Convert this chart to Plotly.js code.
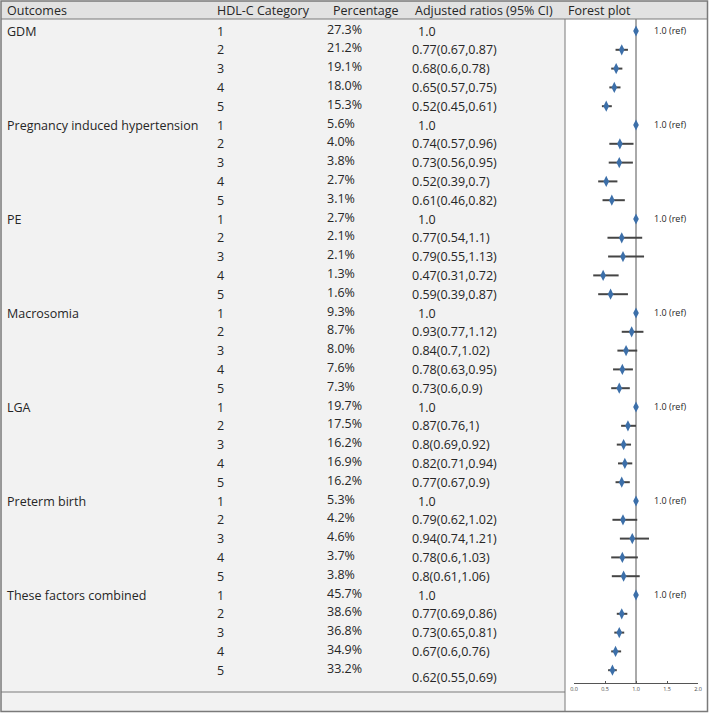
<!DOCTYPE html>
<html>
<head>
<meta charset="utf-8">
<script src="https://cdn.plot.ly/plotly-3.0.1.min.js"></script>
<style>
  body { margin: 0; padding: 0; background: #fff; }
  #chart { width: 709px; height: 713px; }
</style>
</head>
<body>
<div id="chart"></div>
<script>
// table data
const outcomes = ['GDM', 'Pregnancy induced hypertension', 'PE', 'Macrosomia', 'LGA', 'Preterm birth', 'These factors combined'];
const categories = ['1', '2', '3', '4', '5'];
const percentages = [
    [27.3, 21.2, 19.1, 18.0, 15.3],
    [5.6, 4.0, 3.8, 2.7, 3.1],
    [2.7, 2.1, 2.1, 1.3, 1.6],
    [9.3, 8.7, 8.0, 7.6, 7.3],
    [19.7, 17.5, 16.2, 16.9, 16.2],
    [5.3, 4.2, 4.6, 3.7, 3.8],
    [45.7, 38.6, 36.8, 34.9, 33.2]
];
// adjusted ratios, category 1 is the reference
const estimates = [
    [1.0, 0.77, 0.68, 0.65, 0.52],
    [1.0, 0.74, 0.73, 0.52, 0.61],
    [1.0, 0.77, 0.79, 0.47, 0.59],
    [1.0, 0.93, 0.84, 0.78, 0.73],
    [1.0, 0.87, 0.8, 0.82, 0.77],
    [1.0, 0.79, 0.94, 0.78, 0.8],
    [1.0, 0.77, 0.73, 0.67, 0.62]
];
const lower = [
    [null, 0.67, 0.6, 0.57, 0.45],
    [null, 0.57, 0.56, 0.39, 0.46],
    [null, 0.54, 0.55, 0.31, 0.39],
    [null, 0.77, 0.7, 0.63, 0.6],
    [null, 0.76, 0.69, 0.71, 0.67],
    [null, 0.62, 0.74, 0.6, 0.61],
    [null, 0.69, 0.65, 0.6, 0.55]
];
const upper = [
    [null, 0.87, 0.78, 0.75, 0.61],
    [null, 0.96, 0.95, 0.7, 0.82],
    [null, 1.1, 1.13, 0.72, 0.87],
    [null, 1.12, 1.02, 0.95, 0.9],
    [null, 1, 0.92, 0.94, 0.9],
    [null, 1.02, 1.21, 1.03, 1.06],
    [null, 0.86, 0.81, 0.76, 0.69]
];
const headers = ['Outcomes', 'HDL-C Category', 'Percentage', 'Adjusted ratios (95% CI)', 'Forest plot'];
const forestTicks = [0, 0.5, 1, 1.5, 2];
const refValue = 1;

// page geometry in pixels
const W = 709, H = 713;
const rowTop = 31, rowStep = 18.8;
const px = v => v / W;
const py = v => 1 - v / H;

const textColor = '#262626';
const lineColor = '#7a7a7a';
const font = 'Open Sans, sans-serif';
const fontSize = 12.5;

const rows = [], xs = [], errPlus = [], errMinus = [];
const annotations = [];

headers.forEach((h, i) => {
    annotations.push({
        text: h, xref: 'paper', yref: 'paper',
        x: px([7, 217, 333, 415, 568][i]), y: py(10.5),
        xanchor: 'left', yanchor: 'middle', showarrow: false,
        borderpad: 0, borderwidth: 0,
        font: { family: font, size: fontSize, color: textColor }
    });
});

outcomes.forEach((name, o) => {
    categories.forEach((cat, c) => {
        const r = o * categories.length + c;
        const isRef = lower[o][c] === null;
        const isLast = r === outcomes.length * categories.length - 1;
        rows.push(r);
        xs.push(estimates[o][c]);
        errPlus.push(isRef ? 0 : upper[o][c] - estimates[o][c]);
        errMinus.push(isRef ? 0 : estimates[o][c] - lower[o][c]);

        const base = { xref: 'paper', yref: 'y', y: r, xanchor: 'left', yanchor: 'middle',
            showarrow: false, borderpad: 0, borderwidth: 0,
            font: { family: font, size: fontSize, color: textColor } };
        if (c === 0) annotations.push({ ...base, text: name, x: px(7) });
        annotations.push({ ...base, text: cat, x: px(217) });
        annotations.push({ ...base, text: percentages[o][c].toFixed(1) + '%', x: px(327), yshift: 2 });
        const ratioText = isRef ? '1.0'
            : `${estimates[o][c]}(${lower[o][c]},${upper[o][c]})`;
        annotations.push({ ...base, text: ratioText, x: px(isRef ? 418 : 412), yshift: isLast ? -7 : 0 });
        if (isRef) {
            annotations.push({
                text: '1.0 (ref)', xref: 'x', yref: 'y', x: 1.55, y: r, yshift: 1,
                xanchor: 'center', yanchor: 'middle', showarrow: false,
                font: { family: font, size: 9, color: textColor }
            });
        }
    });
});

const trace = {
    type: 'scatter', mode: 'markers',
    x: xs, y: rows,
    marker: { symbol: 'diamond-tall', size: 8, color: '#3c6fa9' },
    error_x: { type: 'data', symmetric: false, array: errPlus, arrayminus: errMinus,
        color: '#454545', thickness: 2, width: 0 },
    hoverinfo: 'x', showlegend: false
};

const axisY = 683;
const shapes = [
    // body and header backgrounds
    { type: 'rect', xref: 'paper', yref: 'paper', x0: px(1), x1: px(707), y0: py(711.5), y1: py(1),
        fillcolor: '#f2f2f2', line: { width: 0 }, layer: 'below' },
    { type: 'rect', xref: 'paper', yref: 'paper', x0: px(1), x1: px(707), y0: py(19), y1: py(1),
        fillcolor: '#e2e2e2', line: { width: 0 }, layer: 'below' },
    { type: 'rect', xref: 'paper', yref: 'paper', x0: px(565), x1: px(707), y0: py(711.5), y1: py(19),
        fillcolor: '#ffffff', line: { width: 0 }, layer: 'below' },
    // rules
    { type: 'line', xref: 'paper', yref: 'paper', x0: px(1), x1: px(707), y0: py(19), y1: py(19),
        line: { color: lineColor, width: 1 } },
    { type: 'line', xref: 'paper', yref: 'paper', x0: px(565), x1: px(565), y0: py(19), y1: py(711.5),
        line: { color: lineColor, width: 1 } },
    { type: 'line', xref: 'paper', yref: 'paper', x0: px(1), x1: px(565), y0: py(692), y1: py(692),
        line: { color: lineColor, width: 1 } },
    { type: 'rect', xref: 'paper', yref: 'paper', x0: px(1), x1: px(707.5), y0: py(711.5), y1: py(1),
        line: { color: lineColor, width: 1.5 } },
    // reference line of the forest plot
    { type: 'line', xref: 'x', yref: 'paper', x0: refValue, x1: refValue, y0: py(axisY), y1: py(19),
        line: { color: '#555555', width: 1 }, layer: 'below' }
];

const layout = {
    width: W, height: H,
    margin: { l: 0, r: 0, t: 0, b: 0, pad: 0 },
    paper_bgcolor: '#ffffff', plot_bgcolor: 'rgba(0,0,0,0)',
    xaxis: {
        domain: [px(574), px(698)], range: [0, 2],
        anchor: 'free', position: py(axisY),
        tickvals: forestTicks, tickformat: '.1f',
        showline: true, linecolor: '#555555', linewidth: 1,
        ticks: 'inside', ticklen: 2, tickcolor: '#555555',
        showgrid: false, zeroline: false,
        tickfont: { family: font, size: 5.5, color: '#444444' }
    },
    yaxis: {
        domain: [0, 1],
        range: [(H - rowTop) / rowStep, -rowTop / rowStep],
        visible: false, showgrid: false, zeroline: false
    },
    shapes, annotations,
    showlegend: false
};

Plotly.newPlot('chart', [trace], layout, { staticPlot: true, displayModeBar: false });
</script>
</body>
</html>
